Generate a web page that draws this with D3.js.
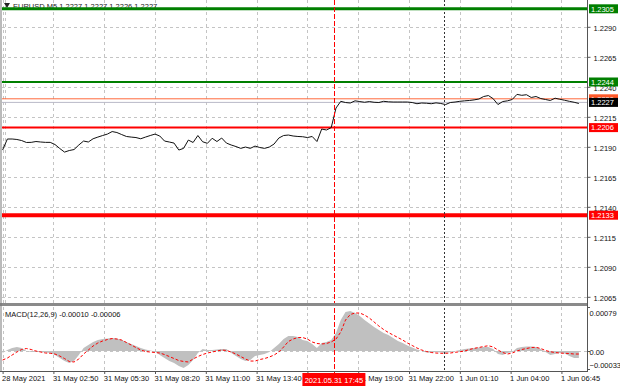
<!DOCTYPE html>
<html><head><meta charset="utf-8">
<script src="https://cdn.jsdelivr.net/npm/d3@7"></script>
<style>
body{margin:0;background:#fff}
svg{display:block;font-family:"Liberation Sans",Arial,sans-serif;font-size:7.5px}
</style>
</head><body><svg id="c" width="620" height="388"></svg>
<script>
// ---------------- data ----------------
const symbolTitle = "EURUSD,M5  1.2227 1.2227 1.2226 1.2227";
const macdTitle = "MACD(12,26,9) -0.00010 -0.00006";
const timeLabels = ["28 May 2021","31 May 02:50","31 May 05:30","31 May 08:20","31 May 11:00","31 May 13:40","31 May 16:20","31 May 19:00","31 May 22:00","1 Jun 01:10","1 Jun 04:00","1 Jun 06:45"];
const timeLabelBars = [0,32,64,96,128,160,192,224,256,288,320,352];
const priceTicks = [1.2290,1.2265,1.2240,1.2215,1.2190,1.2165,1.2140,1.2115,1.2090,1.2065];
const levelValues = [1.2305,1.2244,1.2206,1.2133];
const askPrice = 1.2230;
const bidPrice = 1.2227;
const crosshairBar = 209;
const crosshairLabel = "2021.05.31 17:45";
const daySeparatorBar = 278;
const barsPerSample = 3;
const totalBars = 362;
const macdTicks = [0.00079, 0.00, -0.00033];

const priceClose = [
1.21873,1.21965,1.21965,1.21961,1.21952,1.21936,1.21937,1.21944,1.21940,1.21937,
1.21937,1.21919,1.21886,1.21856,1.21869,1.21877,1.21915,1.21948,1.21940,1.21967,
1.21981,1.21994,1.22006,1.22027,1.22019,1.22002,1.21986,1.21981,1.21977,1.21967,
1.21981,1.21994,1.22006,1.21990,1.21948,1.21940,1.21931,1.21873,1.21887,1.21956,
1.21936,1.21994,1.21942,1.21929,1.21971,1.21944,1.21973,1.21931,1.21915,1.21902,
1.21887,1.21898,1.21887,1.21906,1.21894,1.21887,1.21898,1.21923,1.21973,1.21994,
1.21998,1.21990,1.21986,1.21984,1.21977,1.21986,1.21944,1.22048,1.22040,1.22060,
1.22223,1.22279,1.22269,1.22265,1.22283,1.22277,1.22271,1.22277,1.22271,1.22269,
1.22279,1.22275,1.22273,1.22273,1.22273,1.22273,1.22269,1.22259,1.22265,1.22263,
1.22259,1.22266,1.22261,1.22252,1.22269,1.22273,1.22279,1.22283,1.22286,1.22291,
1.22298,1.22319,1.22327,1.22301,1.22252,1.22277,1.22283,1.22294,1.22337,1.22329,
1.22334,1.22311,1.22319,1.22302,1.22294,1.22286,1.22305,1.22296,1.22288,1.22279,
1.22271,1.22261];

const macdMain = [
-0.000036,0.000018,0.000054,0.000072,0.000054,0,-0.000018,-0.000018,-0.000018,-0.000027,
-0.000036,-0.000072,-0.000126,-0.000180,-0.000215,-0.000180,-0.000072,0.000054,0.000108,0.000162,
0.000197,0.000215,0.000224,0.000233,0.000224,0.000197,0.000162,0.000126,0.000090,0.000054,
0.000027,0.000009,-0.000009,-0.000072,-0.000126,-0.000180,-0.000215,-0.000269,-0.000305,-0.000251,
-0.000162,-0.000036,0.000036,0.000018,0.000018,0.000027,0.000036,0.000036,-0.000036,-0.000090,
-0.000144,-0.000180,-0.000162,-0.000090,-0.000072,-0.000054,-0.000018,0.000054,0.000126,0.000215,
0.000269,0.000269,0.000251,0.000197,0.000180,0.000126,0.000054,0.000144,0.000162,0.000197,
0.000323,0.000556,0.000700,0.000718,0.000682,0.000628,0.000556,0.000494,0.000431,0.000377,
0.000323,0.000287,0.000233,0.000180,0.000144,0.000099,0.000063,0.000027,0,-0.000027,
-0.000027,-0.000018,-0.000027,-0.000036,-0.000018,0,0.000018,0.000036,0.000045,0.000054,
0.000063,0.000072,0.000072,0.000036,-0.000054,-0.000072,-0.000036,-0.000018,0.000054,0.000072,
0.000081,0.000081,0.000072,0.000036,-0.000018,-0.000072,-0.000054,-0.000036,-0.000045,-0.000090,
-0.000126,-0.000126];

const macdSignal = [
-0.000162,-0.000126,-0.000072,-0.000018,0.000027,0.000045,0.000027,0,-0.000018,-0.000036,
-0.000041,-0.000054,-0.000090,-0.000135,-0.000188,-0.000197,-0.000144,-0.000054,0.000018,0.000090,
0.000144,0.000180,0.000206,0.000224,0.000215,0.000197,0.000153,0.000108,0.000063,0.000018,
-0.000009,-0.000018,-0.000027,-0.000036,-0.000063,-0.000099,-0.000135,-0.000171,-0.000188,-0.000197,
-0.000144,-0.000099,-0.000063,-0.000036,-0.000018,0,0.000018,0.000009,-0.000018,-0.000054,
-0.000099,-0.000144,-0.000180,-0.000180,-0.000153,-0.000135,-0.000108,-0.000072,-0.000018,0.000072,
0.000171,0.000215,0.000242,0.000242,0.000215,0.000162,0.000135,0.000126,0.000135,0.000162,
0.000215,0.000341,0.000556,0.000655,0.000682,0.000682,0.000646,0.000592,0.000521,0.000449,
0.000386,0.000332,0.000287,0.000242,0.000197,0.000144,0.000099,0.000054,0.000018,-0.000009,
-0.000027,-0.000036,-0.000041,-0.000041,-0.000036,-0.000023,-0.000013,0,0.000027,0.000048,
0.000063,0.000081,0.000095,0.000072,0.000018,-0.000027,-0.000054,-0.000036,0,0.000027,
0.000045,0.000063,0.000066,0.000045,0.000009,-0.000013,-0.000027,-0.000036,-0.000041,-0.000045,
-0.000054,-0.000054];

// ---------------- layout ----------------
const axisX = 587;
const mainTop = 0, mainBottom = 303;
const macdTop = 307, macdBottom = 371;
const svg = d3.select("#c");

const x = d3.scaleLinear().domain([0, totalBars]).range([2.6, 577.3]);
const y = d3.scaleLinear().domain([1.2065, 1.2290]).range([296.8, 26.8]);
const ym = d3.scaleLinear().domain([-0.00033, 0.00079]).range([369.4, 307]);
const px = v => Math.round(v) + 0.5;

const defs = svg.append("defs");
defs.append("clipPath").attr("id","clipMain").append("rect")
  .attr("x",0).attr("y",mainTop).attr("width",axisX).attr("height",mainBottom-mainTop);
defs.append("clipPath").attr("id","clipMacd").append("rect")
  .attr("x",0).attr("y",macdTop).attr("width",axisX).attr("height",macdBottom-macdTop);

const gridColor = "#c4c4c4";
const grid = svg.append("g").attr("stroke",gridColor).attr("stroke-width",1).attr("stroke-dasharray","3,3");
timeLabelBars.forEach(b => {
  grid.append("line").attr("x1",px(x(b))).attr("x2",px(x(b))).attr("y1",mainTop).attr("y2",mainBottom);
  grid.append("line").attr("x1",px(x(b))).attr("x2",px(x(b))).attr("y1",macdTop).attr("y2",macdBottom);
});
grid.append("line").attr("x1",5.5).attr("x2",5.5).attr("y1",mainTop).attr("y2",mainBottom);
priceTicks.forEach(p => {
  grid.append("line").attr("x1",2).attr("x2",axisX).attr("y1",px(y(p))).attr("y2",px(y(p)));
});
grid.append("line").attr("x1",2).attr("x2",axisX).attr("y1",px(ym(0))).attr("y2",px(ym(0)));

// title
svg.append("path").attr("d","M4,3 L10,3 L7,8 Z").attr("fill","#222");
svg.append("text").attr("x",13).attr("y",6).attr("dominant-baseline","central")
  .attr("fill","#222").text(symbolTitle);

// level lines
const levelColors = ["#007f00","#007f00","#ff0000","#ff0000"];
const levelWidths = [3,2,2,4];
const gMain = svg.append("g").attr("clip-path","url(#clipMain)");
gMain.append("line").attr("x1",2).attr("x2",axisX).attr("y1",y(bidPrice)).attr("y2",y(bidPrice))
  .attr("stroke","#b9b9c8").attr("stroke-width",1);
gMain.append("line").attr("x1",2).attr("x2",axisX).attr("y1",y(askPrice)).attr("y2",y(askPrice))
  .attr("stroke","#ff6a3d").attr("stroke-width",1);
levelValues.forEach((v,i) => {
  gMain.append("line").attr("x1",2).attr("x2",axisX).attr("y1",y(v)).attr("y2",y(v))
    .attr("stroke",levelColors[i]).attr("stroke-width",levelWidths[i]);
});

// price line
const priceLine = d3.line().x((d,i) => x(i*barsPerSample)).y(d => y(d));
gMain.append("path").datum(priceClose).attr("d",priceLine)
  .attr("fill","none").attr("stroke","#111").attr("stroke-width",1);

// MACD
const gMacd = svg.append("g").attr("clip-path","url(#clipMacd)");
const histArea = d3.area().x((d,i) => x(i*barsPerSample)).y0(ym(0)).y1(d => ym(d));
gMacd.append("path").datum(macdMain).attr("d",histArea).attr("fill","#c0c0c0");
const sigLine = d3.line().x((d,i) => x(i*barsPerSample)).y(d => ym(d));
gMacd.append("path").datum(macdSignal).attr("d",sigLine)
  .attr("fill","none").attr("stroke","#ff0000").attr("stroke-width",1).attr("stroke-dasharray","3,2");

// special vertical lines
svg.append("line").attr("x1",px(x(daySeparatorBar))).attr("x2",px(x(daySeparatorBar)))
  .attr("y1",0).attr("y2",macdBottom).attr("stroke","#333").attr("stroke-dasharray","2,2");
svg.append("line").attr("x1",px(x(crosshairBar))).attr("x2",px(x(crosshairBar)))
  .attr("y1",0).attr("y2",macdBottom+2).attr("stroke","#ff0000").attr("stroke-dasharray","5,2");

// frame
svg.append("rect").attr("x",0).attr("y",mainBottom).attr("width",axisX).attr("height",3).attr("fill","#8a8a8a");
svg.append("line").attr("x1",1).attr("x2",1).attr("y1",0).attr("y2",macdBottom).attr("stroke","#777");
svg.append("line").attr("x1",axisX+0.5).attr("x2",axisX+0.5).attr("y1",0).attr("y2",macdBottom).attr("stroke","#555");
svg.append("line").attr("x1",0).attr("x2",axisX+1).attr("y1",macdBottom+0.5).attr("y2",macdBottom+0.5).attr("stroke","#555");

// price axis
const yAxis = d3.axisRight(y).tickValues(priceTicks).tickFormat(d3.format(".4f")).tickSize(3).tickPadding(3);
const gy = svg.append("g").attr("transform",`translate(${axisX+0.5},0)`).call(yAxis);
gy.select(".domain").remove();
gy.selectAll("line").attr("stroke","#555");
gy.selectAll("text").attr("font-size","7.5px").attr("font-family","Liberation Sans, Arial, sans-serif")
  .attr("fill","#111").attr("dy","0.5em");

// MACD axis labels
const macdFmt = v => v === 0 ? "0.00" : d3.format(".5f")(v);
macdTicks.forEach((v,i) => {
  svg.append("line").attr("x1",axisX).attr("x2",axisX+3).attr("y1",px(ym(v))).attr("y2",px(ym(v))).attr("stroke","#555");
  svg.append("text").attr("x",axisX+2.5).attr("y",Math.min(Math.max(ym(v)+1.3, 313.3), 365.7))
    .attr("dominant-baseline","central").attr("fill","#111").text(macdFmt(v));
});

// time axis (a label that starts under the crosshair box is not drawn)
const cx = x(crosshairBar);
const xAxis = d3.axisBottom(x).tickValues(timeLabelBars)
  .tickFormat((d,i) => (x(d) > cx - 33 && x(d) < cx) ? "" : timeLabels[i]).tickSize(3).tickPadding(2);
const gx = svg.append("g").attr("transform",`translate(0,${macdBottom})`).call(xAxis);
gx.select(".domain").remove();
gx.selectAll("line").attr("stroke","#555");
gx.selectAll("text").attr("text-anchor","start").attr("dx","-1").attr("font-size","7.5px")
  .attr("font-family","Liberation Sans, Arial, sans-serif").attr("fill","#111");

// right price boxes
function priceBox(v, fill, txt) {
  const cy = y(v);
  svg.append("rect").attr("x",axisX+2).attr("y",cy-4.5).attr("width",29).attr("height",9).attr("fill",fill);
  svg.append("text").attr("x",axisX+4).attr("y",cy+0.3).attr("dominant-baseline","central")
    .attr("fill","#fff").text(txt);
}
priceBox(levelValues[0], levelColors[0], levelValues[0].toFixed(4));
priceBox(levelValues[1], levelColors[1], levelValues[1].toFixed(4));
priceBox(askPrice, "#ff5a2a", askPrice.toFixed(4));
priceBox(bidPrice, "#000", bidPrice.toFixed(4));
priceBox(levelValues[2], levelColors[2], levelValues[2].toFixed(4));
priceBox(levelValues[3], levelColors[3], levelValues[3].toFixed(4));

// crosshair time box
svg.append("rect").attr("x",cx-32).attr("y",macdBottom+2).attr("width",63).attr("height",13).attr("fill","#ff0000");
svg.append("text").attr("x",cx-0.5).attr("y",macdBottom+9).attr("text-anchor","middle")
  .attr("dominant-baseline","central").attr("fill","#fff").text(crosshairLabel);

// MACD title
svg.append("text").attr("x",5).attr("y",314).attr("dominant-baseline","central").attr("fill","#111").text(macdTitle);
</script>
</body></html>
